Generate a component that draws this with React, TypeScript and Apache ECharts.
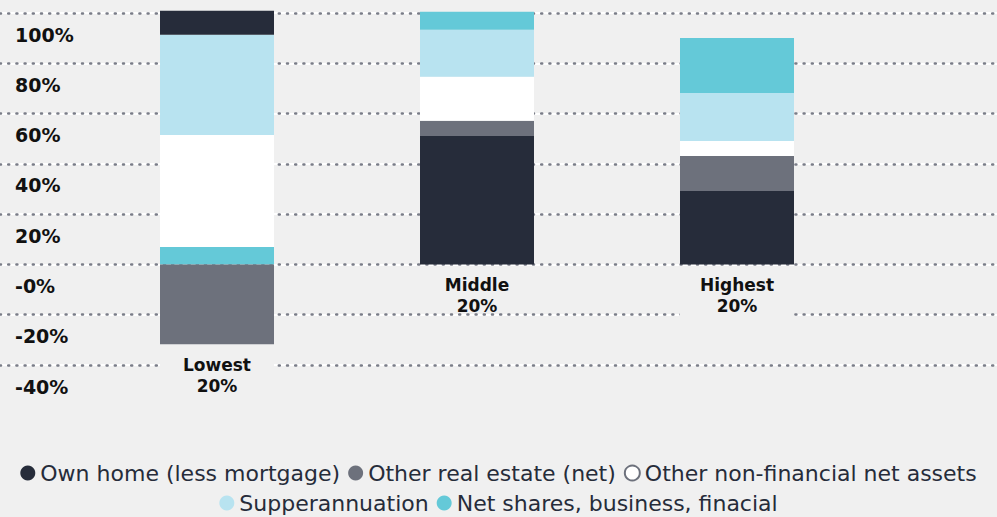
import React, { useEffect, useRef } from "react";
import * as echarts from "echarts";

// ---- data ----
const categories = ["Lowest\n20%", "Middle\n20%", "Highest\n20%"];
const seriesNames = [
  "Own home (less mortgage)",
  "Other real estate (net)",
  "Other non-financial net assets",
  "Supperannuation",
  "Net shares, business, finacial",
];
const ownHome = [9.6, 51.1, 29.2];
const otherRealEstate = [-31.7, 6.0, 13.9];
const otherNonFinancial = [44.6, 17.5, 6.0];
const superannuation = [39.8, 18.7, 19.1];
const netShares = [6.9, 7.2, 21.9];
const yTicks = [-40, -20, 0, 20, 40, 60, 80, 100];
const yTickLabels = ["-40%", "-20%", "-0%", "20%", "40%", "60%", "80%", "100%"];
// order of segments from the bottom of each stack (indexes into seriesNames)
const stackOrders = [
  [4, 1, 2, 3, 0],
  [0, 1, 2, 3, 4],
  [0, 1, 2, 3, 4],
];

const values = [ownHome, otherRealEstate, otherNonFinancial, superannuation, netShares];
const colors = ["#262c3a", "#6d717c", "#ffffff", "#b8e3f0", "#64c9d8"];
const BG = "#f0f0f0";
const maskLabel = [true, false, true];

export default function App() {
  const ref = useRef<HTMLDivElement>(null);
  useEffect(() => {
    if (!ref.current) return;
    const chart = echarts.init(ref.current, null, { renderer: "svg" });

    // bottom segment per category gets the category label
    const bottomKey = categories.map((_, c) => {
      const neg = values.findIndex((arr) => arr[c] < 0);
      return neg >= 0 ? neg : stackOrders[c][0];
    });

    const series: any[] = [];
    for (let p = 0; p < seriesNames.length; p++) {
      const keys = Array.from(new Set(stackOrders.map((o) => o[p])));
      keys.forEach((k) => {
        const data = categories.map((_, c) => {
          if (stackOrders[c][p] !== k) return "-";
          const v = values[k][c];
          if (bottomKey[c] === k) {
            return {
              value: v,
              label: {
                show: true,
                position: "bottom",
                distance: 10,
                formatter: "{b}",
                fontFamily: "DejaVu Sans",
                fontWeight: "bold",
                fontSize: 17,
                lineHeight: 21,
                color: "#111111",
                width: 114,
                align: "center",
                backgroundColor: maskLabel[c] ? BG : "transparent",
              },
            };
          }
          return v;
        });
        series.push({
          type: "bar",
          name: seriesNames[k],
          stack: "total",
          xAxisIndex: 1,
          yAxisIndex: 2,
          barWidth: 114,
          clip: false,
          itemStyle: { color: colors[k] },
          emphasis: { disabled: true },
          data,
        });
      });
    }

    const legendBase = {
      icon: "circle",
      itemWidth: 15,
      itemHeight: 15,
      itemGap: 8,
      padding: 0,
      left: "center",
      selectedMode: false,
      textStyle: { fontFamily: "DejaVu Sans", fontSize: 22, color: "#262c3a" },
    };
    const legendItem = (i: number) =>
      i === 2
        ? { name: seriesNames[i], itemStyle: { color: "#ffffff", borderColor: "#6d717c", borderWidth: 2 } }
        : { name: seriesNames[i], itemStyle: { color: colors[i] } };

    chart.setOption({
      animation: false,
      backgroundColor: BG,
      grid: [
        { left: 0, right: 0, top: 13, bottom: 152 },
        { left: 87, right: 130, top: 13, bottom: 152 },
      ],
      xAxis: [
        { type: "value", gridIndex: 0, show: false, min: 0, max: 1 },
        { type: "category", gridIndex: 1, data: categories, show: false },
      ],
      yAxis: [
        {
          type: "value",
          gridIndex: 0,
          min: yTicks[0],
          max: yTicks[yTicks.length - 1],
          interval: 20,
          z: 1,
          axisLine: { show: false },
          axisTick: { show: false },
          axisLabel: {
            inside: true,
            margin: 15,
            verticalAlign: "top",
            padding: [12, 0, 0, 0],
            lineHeight: 19,
            fontFamily: "DejaVu Sans",
            fontWeight: "bold",
            fontSize: 19,
            color: "#111111",
            formatter: (v: number) => yTickLabels[yTicks.indexOf(v)] ?? "",
          },
          splitLine: {
            show: true,
            lineStyle: { color: "#7a7d88", width: 2.5, type: [1, 7.2], cap: "round" },
          },
        },
        {
          type: "value",
          gridIndex: 0,
          position: "right",
          min: yTicks[0],
          max: yTicks[yTicks.length - 1],
          interval: 20,
          z: 0,
          axisLine: { show: false },
          axisTick: { show: false },
          axisLabel: { show: false },
          splitLine: { show: true, lineStyle: { color: "#ffffff", width: 2, type: "solid" } },
        },
        {
          type: "value",
          gridIndex: 1,
          min: yTicks[0],
          max: yTicks[yTicks.length - 1],
          interval: 20,
          show: false,
        },
      ],
      legend: [
        { ...legendBase, top: 462, data: [0, 1, 2].map(legendItem) },
        { ...legendBase, top: 492, data: [3, 4].map(legendItem) },
      ],
      series,
    });
    return () => chart.dispose();
  }, []);

  return (
    <div
      ref={ref}
      style={{ position: "absolute", left: 0, top: 0, width: 997, height: 517, background: BG }}
    />
  );
}
